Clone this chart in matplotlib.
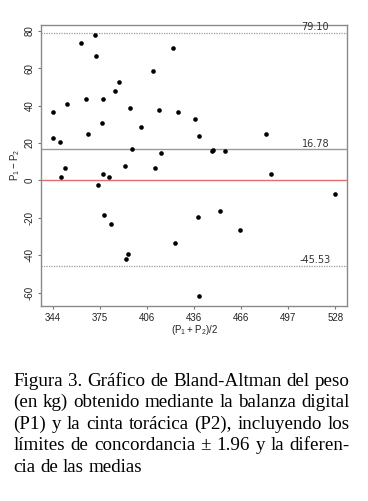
import matplotlib
matplotlib.use("Agg")
import matplotlib.pyplot as plt

# Data (mean of P1,P2 and difference P1-P2)
mean_p = [362.4, 371.7, 372.4, 422.5, 409.5, 387.2, 384.8, 365.7, 376.6, 353.1,
          344.0, 394.3, 413.0, 425.8, 436.4, 376.1, 401.3, 344.0, 348.9, 367.2,
          395.4, 414.5, 439.2, 483.1, 448.6, 447.9, 456.4, 486.4, 352.0, 349.6,
          376.6, 380.7, 390.9, 410.4, 373.7, 377.6, 382.2, 423.4, 393.2, 391.7,
          528.0, 438.6, 453.1, 466.1, 439.4]
diff_p = [73.7, 77.8, 66.7, 70.7, 58.7, 52.7, 47.7, 43.6, 43.6, 40.7,
          36.6, 38.6, 37.5, 36.6, 32.7, 30.6, 28.6, 22.6, 20.6, 24.7,
          16.7, 14.5, 23.6, 24.6, 16.4, 15.7, 15.6, 3.6, 6.7, 1.7,
          3.6, 1.7, 7.6, 6.7, -2.4, -18.4, -23.4, -33.4, -39.3, -42.1,
          -7.4, -19.4, -16.5, -26.5, -61.8]

upper_loa = 79.10
mean_diff = 16.78
lower_loa = -45.53

x_tick_labels = ["344", "375", "406", "436", "466", "497", "528"]
y_ticks = [-60, -40, -20, 0, 20, 40, 60, 80]

caption_lines = [
    "Figura 3. Gráfico de Bland-Altman del peso",
    "(en kg) obtenido mediante la balanza digital",
    "(P1) y la cinta torácica (P2), incluyendo los",
    "límites de concordancia ± 1.96 y la diferen-",
    "cia de las medias",
]

W, H = 368, 501
fig = plt.figure(figsize=(W / 100, H / 100), dpi=100)
ax = fig.add_axes([41.3 / W, 1 - 305.7 / H, (346.7 - 41.3) / W, (305.7 - 24.7) / H])

ax.scatter(mean_p, diff_p, s=11, color="black", zorder=3, linewidths=0)

ax.axhline(upper_loa, color="#9a9a9a", lw=0.9, ls=(0, (1, 1)))
ax.axhline(lower_loa, color="#9a9a9a", lw=0.9, ls=(0, (1, 1)))
ax.axhline(mean_diff, color="#9a9a9a", lw=1.0)
ax.axhline(0, color="#e07070", lw=1.0)

for v in (upper_loa, mean_diff, lower_loa):
    ax.text(515, v + 0.3, f"{v:.2f}", ha="center", va="bottom", fontsize=7,
            family="DejaVu Sans", color="#333333")

step = (528 - 344) / 6
x_ticks = [344 + i * step for i in range(7)]
ax.set_xticks(x_ticks)
ax.set_xticklabels(x_tick_labels)
ax.set_yticks(y_ticks)
ax.set_yticklabels([str(t) for t in y_ticks], rotation=90, va="center")
ax.set_xlim(336.6, 535.4)
ax.set_ylim(-67.0, 83.3)

for lab in ax.get_xticklabels() + ax.get_yticklabels():
    lab.set_family("Liberation Sans")
    lab.set_fontsize(7)
    lab.set_color("#222222")
ax.tick_params(length=2.5, width=0.8, color="#777777", pad=2.5)
for sp in ax.spines.values():
    sp.set_color("#8a8a8a")
    sp.set_linewidth(1.0)

ax.set_xlabel(r"$\mathregular{(P_1 + P_2)/2}$", fontsize=7, family="Liberation Sans",
              labelpad=0.5, color="#222222")
ax.set_ylabel(r"$\mathregular{P_1 - P_2}$", fontsize=7, family="Liberation Sans",
              labelpad=1.5, color="#222222")

# Justified caption
renderer = fig.canvas.get_renderer()
left_px, right_px = 13.6, 349.5
base0, lead = 385.5, 21.6
fs = 13.7


def word_width(w):
    t = fig.text(0, 0, w, fontsize=fs, family="Liberation Serif")
    wd = t.get_window_extent(renderer).width
    t.remove()
    return wd


space_w = word_width("a a") - word_width("aa")
for i, line in enumerate(caption_lines):
    yb = 1 - (base0 + i * lead) / H
    words = line.split(" ")
    widths = [word_width(w) for w in words]
    last = i == len(caption_lines) - 1
    if last or len(words) == 1:
        gap = space_w
    else:
        gap = (right_px - left_px - sum(widths)) / (len(words) - 1)
    x = left_px
    for w, wd in zip(words, widths):
        fig.text(x / W, yb, w, ha="left", va="baseline", fontsize=fs,
                 family="Liberation Serif", color="black")
        x += wd + gap

fig.savefig("out.png", dpi=100)
